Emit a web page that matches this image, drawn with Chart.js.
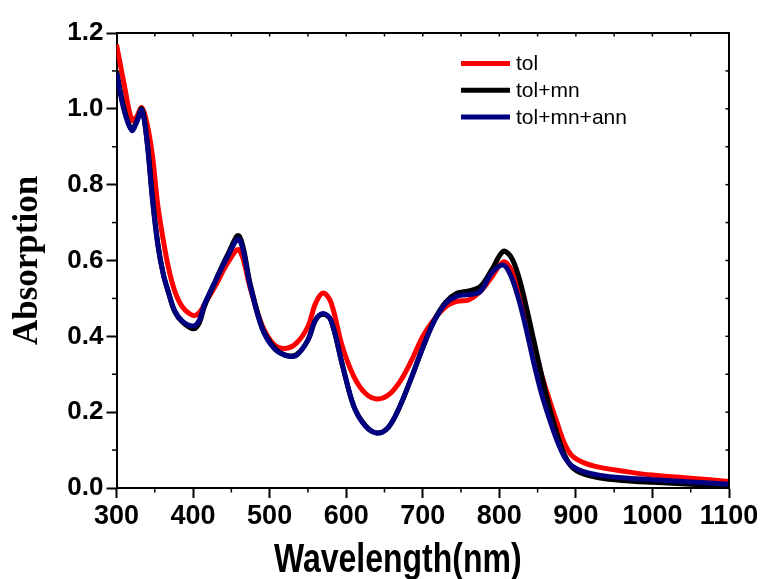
<!DOCTYPE html>
<html>
<head>
<meta charset="utf-8">
<script src="https://cdn.jsdelivr.net/npm/chart.js@4/dist/chart.umd.min.js"></script>
<style>
html,body{margin:0;padding:0;background:#fff;}
#wrap{width:764px;height:579px;position:relative;}
</style>
</head>
<body>
<div id="wrap"><canvas id="c" width="764" height="579"></canvas></div>
<script>
// ---- data ----
const wavelengths = [300,310,320,326,333,340,347,354,361,368,376,386,400,408,415,430,445,460,475,490,505,520,535,550,560,570,580,595,610,625,640,655,670,685,700,715,730,745,760,775,790,805,815,825,835,845,855,865,875,885,895,910,930,960,1000,1050,1100];

const tol = [1.17,1.065,0.97,0.978,1.003,0.96,0.875,0.745,0.655,0.58,0.52,0.478,0.455,0.462,0.485,0.536,0.593,0.628,0.525,0.43,0.38,0.368,0.382,0.426,0.487,0.514,0.49,0.373,0.294,0.25,0.235,0.245,0.28,0.335,0.40,0.445,0.478,0.492,0.496,0.518,0.556,0.596,0.578,0.525,0.46,0.38,0.30,0.235,0.175,0.118,0.085,0.067,0.055,0.045,0.034,0.026,0.017];

const tolMn = [1.10,1.0,0.945,0.965,1.0,0.915,0.765,0.645,0.565,0.515,0.465,0.438,0.42,0.435,0.48,0.55,0.615,0.665,0.535,0.425,0.373,0.351,0.352,0.39,0.443,0.458,0.443,0.325,0.215,0.165,0.145,0.16,0.215,0.29,0.37,0.442,0.49,0.514,0.52,0.531,0.575,0.624,0.61,0.56,0.48,0.39,0.30,0.215,0.145,0.088,0.055,0.037,0.027,0.02,0.015,0.01,0.005];

const tolMnAnn = [1.095,0.995,0.943,0.963,0.997,0.91,0.76,0.64,0.565,0.515,0.468,0.44,0.427,0.442,0.485,0.549,0.61,0.656,0.53,0.422,0.37,0.35,0.35,0.39,0.443,0.46,0.443,0.325,0.215,0.163,0.145,0.16,0.215,0.29,0.37,0.44,0.487,0.506,0.51,0.518,0.567,0.588,0.56,0.5,0.42,0.33,0.25,0.185,0.127,0.082,0.058,0.043,0.034,0.027,0.022,0.016,0.01];

const seriesLabels = ['tol', 'tol+mn', 'tol+mn+ann'];
const seriesValues = [tol, tolMn, tolMnAnn];
const seriesColors = ['#ff0000', '#000000', '#000080'];

const xTitle = 'Wavelength(nm)';
const yTitle = 'Absorption';

// ---- build datasets ----
const datasets = seriesValues.map((vals, i) => ({
  label: seriesLabels[i],
  data: wavelengths.map((w, j) => ({x: w, y: vals[j]})),
  borderColor: seriesColors[i],
  backgroundColor: seriesColors[i],
  borderWidth: 5,
  pointRadius: 0,
  fill: false,
  tension: 0.35,
  order: seriesValues.length - i
}));

// frame, minor ticks, legend, x title
const decorPlugin = {
  id: 'decor',
  afterDraw(chart) {
    const {ctx, chartArea: a, scales: {x, y}} = chart;
    ctx.save();
    ctx.strokeStyle = '#000';
    ctx.lineCap = 'butt';
    ctx.lineWidth = 2;
    ctx.beginPath();
    ctx.moveTo(a.left, a.top);
    ctx.lineTo(a.right, a.top);
    ctx.lineTo(a.right, a.bottom);
    ctx.stroke();

    ctx.lineWidth = 1.5;
    const seg = (x1, y1, x2, y2) => { ctx.beginPath(); ctx.moveTo(x1, y1); ctx.lineTo(x2, y2); ctx.stroke(); };
    // top ticks (inward) every 50
    for (let v = x.min + 50; v < x.max; v += 50) {
      const px = x.getPixelForValue(v);
      seg(px, a.top, px, a.top + 3.5);
    }
    // right ticks (inward) every 0.1
    for (let k = 1; k < 12; k++) {
      const py = y.getPixelForValue(k / 10);
      seg(a.right, py, a.right - 3.5, py);
    }
    // bottom minor ticks (outward)
    for (let v = x.min + 50; v < x.max; v += 100) {
      const px = x.getPixelForValue(v);
      seg(px, a.bottom, px, a.bottom + 4.5);
    }
    // left minor ticks (outward)
    for (let k = 1; k < 12; k += 2) {
      const py = y.getPixelForValue(k / 10);
      seg(a.left, py, a.left - 4.5, py);
    }

    // legend
    const lx = a.left + 344.5, lw = 49;
    chart.data.datasets.forEach((ds, i) => {
      const ly = a.top + 30.5 + i * 26.7;
      ctx.strokeStyle = ds.borderColor;
      ctx.lineWidth = 5;
      seg(lx, ly, lx + lw, ly);
      ctx.fillStyle = '#000';
      ctx.font = '21px "Liberation Sans", Arial, sans-serif';
      ctx.textAlign = 'left';
      ctx.textBaseline = 'middle';
      ctx.fillText(ds.label, lx + lw + 6, ly + 1);
    });

    // x title (slightly tall, as in the reference)
    ctx.fillStyle = '#000';
    ctx.font = 'bold 32px "Liberation Sans", Arial, sans-serif';
    ctx.textAlign = 'center';
    ctx.textBaseline = 'alphabetic';
    ctx.translate((a.left + a.right) / 2 - 25, 572);
    ctx.scale(1, 1.28);
    ctx.fillText(xTitle, 0, 0);
    ctx.restore();
  }
};

new Chart(document.getElementById('c'), {
  type: 'line',
  data: { datasets },
  options: {
    responsive: false,
    animation: false,
    devicePixelRatio: 1,
    layout: { padding: { top: 33, right: 35, left: 0, bottom: 0 } },
    plugins: { legend: { display: false }, tooltip: { enabled: false }, title: { display: false } },
    scales: {
      x: {
        type: 'linear',
        min: 300, max: 1100,
        afterFit: s => { s.height = 91; },
        ticks: {
          stepSize: 100,
          autoSkip: false,
          maxRotation: 0,
          padding: 2,
          color: '#000',
          font: { family: '"Liberation Sans", Arial, sans-serif', size: 27, weight: 'bold' },
          callback: v => String(v)
        },
        grid: { drawOnChartArea: false, drawTicks: true, tickLength: 10, tickWidth: 2, tickColor: '#000' },
        border: { display: true, color: '#000', width: 2 },
        title: { display: false }
      },
      y: {
        min: 0, max: 1.2,
        afterFit: s => { s.width = 116.5; },
        ticks: {
          stepSize: 0.2,
          padding: 3,
          color: '#000',
          font: { family: '"Liberation Sans", Arial, sans-serif', size: 26, weight: 'bold' },
          callback: v => Number(v).toFixed(1)
        },
        grid: { drawOnChartArea: false, drawTicks: true, tickLength: 10, tickWidth: 2, tickColor: '#000' },
        border: { display: true, color: '#000', width: 2 },
        title: {
          display: true,
          text: yTitle,
          color: '#000',
          padding: { top: 7, bottom: 0 },
          font: { family: '"Liberation Serif", "Times New Roman", serif', size: 35, weight: 'bold' }
        }
      }
    }
  },
  plugins: [decorPlugin]
});
</script>
</body>
</html>
